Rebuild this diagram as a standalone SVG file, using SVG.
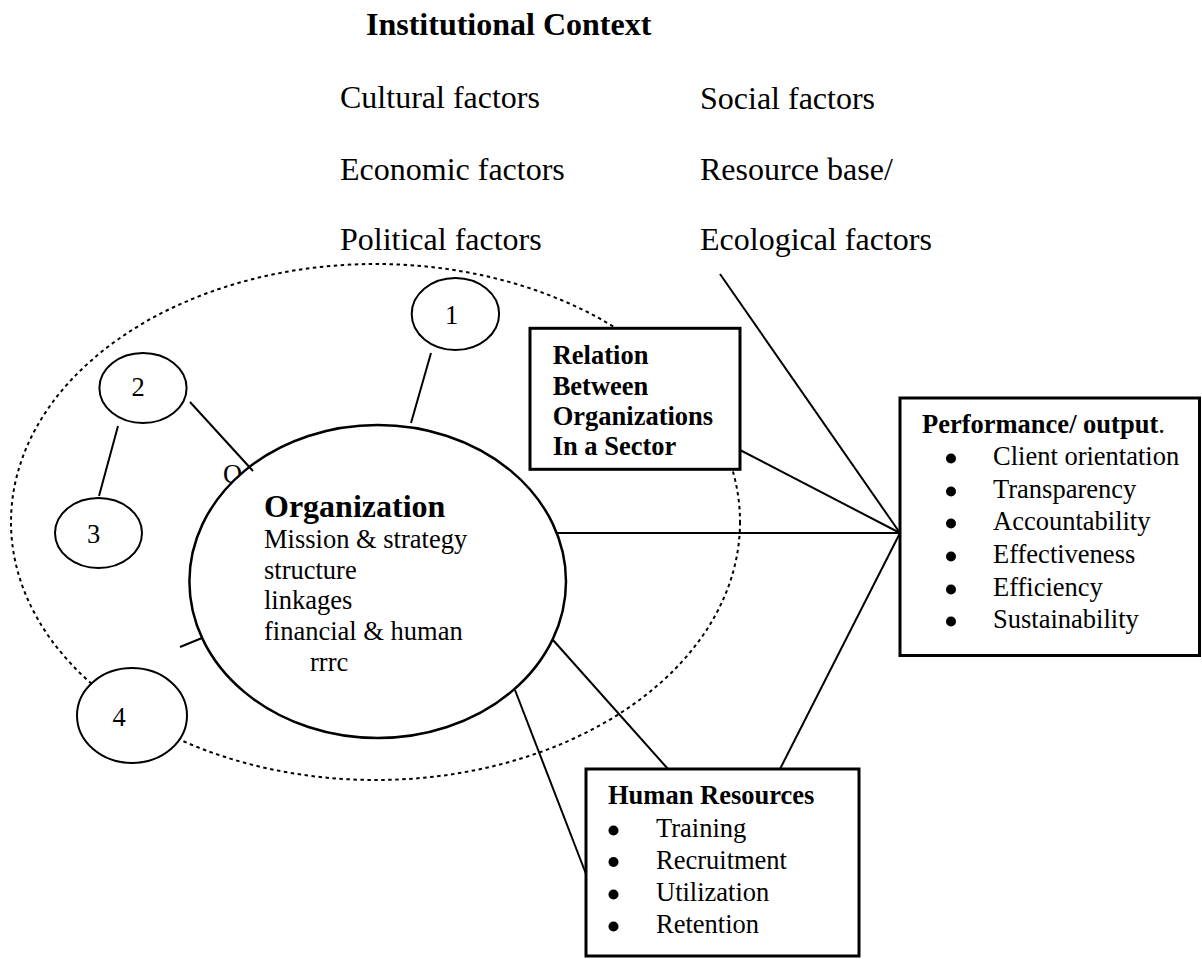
<svg xmlns="http://www.w3.org/2000/svg" width="1202" height="959" viewBox="0 0 1202 959">
  <style>
    .t{font-family:"Liberation Serif","Times New Roman",serif;fill:#000}
    .b{font-weight:bold}
    .f32{font-size:32px}
    .f26{font-size:26.5px}
    .ln{stroke:#000;stroke-width:2;fill:none}
    .box{fill:#fff;stroke:#000;stroke-width:3}
    .node{fill:#fff;stroke:#000;stroke-width:2}
    .org{fill:#fff;stroke:#000;stroke-width:2.5}
    .dot{fill:none;stroke:#000;stroke-width:2;stroke-dasharray:3.5 3.5}
  </style>
  <defs>
    <!-- list bullet -->
    <circle id="bullet" r="5" fill="#000"/>
  </defs>
  <rect width="1202" height="959" fill="#fff"/>

  <!-- institutional context factors -->
  <g id="context">
    <text class="t b f32" x="366" y="35">Institutional Context</text>
    <text class="t f32" x="340" y="108">Cultural factors</text>
    <text class="t f32" x="340" y="180">Economic factors</text>
    <text class="t f32" x="340" y="250">Political factors</text>
    <text class="t f32" x="700" y="109">Social factors</text>
    <text class="t f32" x="700" y="180">Resource base/</text>
    <text class="t f32" x="700" y="250">Ecological factors</text>
  </g>

  <!-- sector boundary -->
  <ellipse id="sector" class="dot" cx="375.5" cy="522" rx="364.5" ry="258"/>

  <!-- stray letter partly hidden behind the organization -->
  <text class="t f26" x="223" y="483">O</text>

  <g id="organization">
    <ellipse class="org" cx="377.7" cy="581.5" rx="188.3" ry="156.5"/>
    <text class="t b f32" x="264" y="516.7">Organization</text>
    <text class="t f26" x="264" y="548">Mission &amp; strategy</text>
    <text class="t f26" x="264" y="578.5">structure</text>
    <text class="t f26" x="264" y="609">linkages</text>
    <text class="t f26" x="264" y="640">financial &amp; human</text>
    <text class="t f26" x="310" y="671">rrrc</text>
  </g>

  <g id="node1">
    <ellipse class="node" cx="455.4" cy="314" rx="43.7" ry="36"/>
    <text class="t f26" x="451.5" y="324" text-anchor="middle">1</text>
  </g>
  <g id="node2">
    <ellipse class="node" cx="143" cy="388" rx="43.6" ry="35"/>
    <text class="t f26" x="138" y="396" text-anchor="middle">2</text>
  </g>
  <g id="node3">
    <ellipse class="node" cx="98.5" cy="533" rx="43.5" ry="35"/>
    <text class="t f26" x="93.5" y="543" text-anchor="middle">3</text>
  </g>
  <g id="node4">
    <ellipse class="node" cx="132" cy="715.5" rx="55" ry="47.5"/>
    <text class="t f26" x="119" y="726" text-anchor="middle">4</text>
  </g>

  <g id="relation">
    <rect class="box" x="530" y="328.3" width="210" height="141"/>
    <text class="t b f26" x="552.7" y="364">Relation</text>
    <text class="t b f26" x="552.7" y="394.5">Between</text>
    <text class="t b f26" x="552.7" y="425">Organizations</text>
    <text class="t b f26" x="552.7" y="455">In a Sector</text>
  </g>

  <g id="performance">
    <rect class="box" x="900" y="398" width="299.5" height="257.5"/>
    <text class="t f26" x="922" y="433"><tspan class="b">Performance/ output</tspan>.</text>
    <use href="#bullet" x="951" y="458.5"/>
    <text class="t f26" x="993" y="465">Client orientation</text>
    <use href="#bullet" x="951" y="491.5"/>
    <text class="t f26" x="993" y="498">Transparency</text>
    <use href="#bullet" x="951" y="523.5"/>
    <text class="t f26" x="993" y="530">Accountability</text>
    <use href="#bullet" x="951" y="556.5"/>
    <text class="t f26" x="993" y="563">Effectiveness</text>
    <use href="#bullet" x="951" y="589.5"/>
    <text class="t f26" x="993" y="596">Efficiency</text>
    <use href="#bullet" x="951" y="621.5"/>
    <text class="t f26" x="993" y="628">Sustainability</text>
  </g>

  <g id="human-resources">
    <rect class="box" x="586" y="769" width="273" height="187"/>
    <text class="t b f26" x="608" y="804">Human Resources</text>
    <use href="#bullet" x="613.5" y="830.5"/>
    <text class="t f26" x="656" y="837">Training</text>
    <use href="#bullet" x="613.5" y="862"/>
    <text class="t f26" x="656" y="868.5">Recruitment</text>
    <use href="#bullet" x="613.5" y="894.5"/>
    <text class="t f26" x="656" y="901">Utilization</text>
    <use href="#bullet" x="613.5" y="926.5"/>
    <text class="t f26" x="656" y="933">Retention</text>
  </g>

  <!-- connectors -->
  <g id="connectors" class="ln">
    <line x1="431" y1="353" x2="411" y2="423"/>
    <line x1="190" y1="402" x2="253" y2="471"/>
    <line x1="118" y1="426" x2="99" y2="496"/>
    <line x1="180" y1="647" x2="202" y2="638"/>
    <line x1="720" y1="274" x2="900" y2="533"/>
    <line x1="740" y1="450" x2="900" y2="533"/>
    <line x1="557" y1="533" x2="900" y2="533"/>
    <line x1="900" y1="533" x2="780" y2="769"/>
    <line x1="553" y1="640" x2="668" y2="769"/>
    <line x1="515" y1="690" x2="586" y2="874"/>
  </g>
</svg>
